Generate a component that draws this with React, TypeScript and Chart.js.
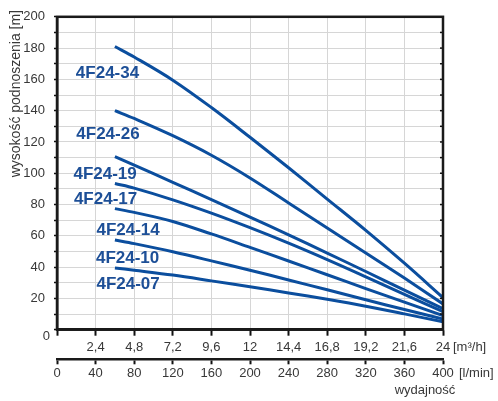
import React, { useEffect, useRef } from 'react';
import { Chart, registerables } from 'chart.js';
Chart.register(...registerables);

// flow [m3/h] sample points
const flowM3h = [3.6, 4.8, 7.2, 9.6, 12, 14.4, 16.8, 19.2, 21.6, 24];
// head [m] per pump
const head34 = [181, 174.3, 159.5, 142, 123, 103.5, 83.5, 63.5, 42.5, 20.5];
const head26 = [140, 135, 124, 111.5, 97, 81, 65, 49, 33, 16.5];
const head19 = [110.7, 105.2, 94.2, 83.2, 72, 60.6, 49, 37.2, 25.3, 13.5];
const head17 = [93.4, 90.5, 83, 74.5, 65.2, 55.3, 44.8, 33.8, 22.6, 11.5];
const head14 = [77.4, 75, 69.2, 61.2, 52.6, 43.9, 35.1, 26.3, 17.6, 9];
const head10 = [57.3, 55, 49.8, 44, 38, 31.8, 25.5, 19.1, 12.9, 6.8];
const head07 = [39.5, 38, 34.9, 31.2, 27.4, 23.5, 19.4, 15, 10.1, 5];

const pumpNames = ['4F24-34', '4F24-26', '4F24-19', '4F24-17', '4F24-14', '4F24-10', '4F24-07'];
const pumpHeads = [head34, head26, head19, head17, head14, head10, head07];
// label anchors in data units (flow m3/h, head m)
const labelFlow = [3.14, 3.17, 2.99, 3.02, 4.42, 4.39, 4.42];
const labelHead = [164, 124.7, 99.3, 83.5, 63.8, 45.8, 28.7];

const m3hTicks = [0, 2.4, 4.8, 7.2, 9.6, 12, 14.4, 16.8, 19.2, 21.6, 24];
const m3hLabels = ['', '2,4', '4,8', '7,2', '9,6', '12', '14,4', '16,8', '19,2', '21,6', '24'];
const lminTicks = [0, 40, 80, 120, 160, 200, 240, 280, 320, 360, 400];
const lminLabels = ['0', '40', '80', '120', '160', '200', '240', '280', '320', '360', '400'];

const yTitle = 'wysokość podnoszenia [m]';
const xTitle = 'wydajność';
const unitM3h = '[m³/h]';
const unitLmin = '[l/min]';

const FONT = "'Liberation Sans', Arial, sans-serif";
const LINE = '#0b4e9e';
const LABEL = '#1d4f97';
const TXT = '#383838';

export default function App() {
  const ref = useRef<HTMLCanvasElement | null>(null);
  useEffect(() => {
    if (!ref.current) return;
    const overlay = {
      id: 'overlay',
      afterDraw(chart: any) {
        const { ctx, chartArea: a, scales } = chart;
        const xs = scales.x, ys = scales.y;
        ctx.save();
        // right border inner ticks
        ctx.strokeStyle = '#111';
        ctx.lineWidth = 1.5;
        for (let v = 10; v < 200; v += 10) {
          const y = ys.getPixelForValue(v);
          ctx.beginPath();
          ctx.moveTo(a.right - 3, y);
          ctx.lineTo(a.right, y);
          ctx.stroke();
        }
        // frame
        ctx.strokeStyle = '#1a1a1a';
        ctx.lineWidth = 2.5;
        ctx.strokeRect(a.left, a.top, a.right - a.left, a.bottom - a.top);
        // y zero label
        ctx.fillStyle = TXT;
        ctx.font = `13px ${FONT}`;
        ctx.textAlign = 'right';
        ctx.textBaseline = 'middle';
        ctx.fillText('0', 50, ys.getPixelForValue(0) + 7);
        // units
        ctx.textAlign = 'left';
        ctx.fillText(unitM3h, 453, 347.5);
        ctx.fillText(unitLmin, 459, 373.5);
        ctx.textAlign = 'center';
        ctx.fillText(xTitle, 425, 390.5);
        // y title
        ctx.save();
        ctx.translate(16, 10);
        ctx.rotate(-Math.PI / 2);
        ctx.textAlign = 'right';
        ctx.textBaseline = 'middle';
        ctx.font = `14px ${FONT}`;
        ctx.fillText(yTitle, 0, 0);
        ctx.restore();
        // curve labels
        ctx.fillStyle = LABEL;
        ctx.font = `bold 17px ${FONT}`;
        ctx.textAlign = 'center';
        ctx.textBaseline = 'middle';
        pumpNames.forEach((n, i) => {
          ctx.fillText(n, xs.getPixelForValue(labelFlow[i]), ys.getPixelForValue(labelHead[i]));
        });
        ctx.restore();
      },
    };
    const chart = new Chart(ref.current, {
      type: 'line',
      data: {
        datasets: pumpHeads.map((h, i) => ({
          label: pumpNames[i],
          data: flowM3h.map((f, j) => ({ x: f, y: h[j] })),
          borderColor: LINE,
          borderWidth: 3,
          pointRadius: 0,
          fill: false,
          tension: 0.35,
          xAxisID: 'x',
          yAxisID: 'y',
        })),
      },
      options: {
        animation: false,
        responsive: false,
        layout: { padding: { top: 14, right: 55, bottom: 0, left: 0 } },
        plugins: { legend: { display: false }, tooltip: { enabled: false } },
        scales: {
          x: {
            type: 'linear',
            position: 'bottom',
            min: 0,
            max: 24,
            weight: 0,
            afterBuildTicks: (s: any) => { s.ticks = m3hTicks.map((v) => ({ value: v })); },
            afterFit: (s: any) => { s.height = 29.6; },
            grid: { color: '#d6d6d6', lineWidth: 1, tickColor: '#111', tickWidth: 2, tickLength: 6 },
            border: { color: '#1a1a1a', width: 2.5 },
            ticks: {
              maxRotation: 0,
              autoSkip: false,
              padding: 4,
              color: TXT,
              font: { family: FONT, size: 13 },
              callback: (_v: any, i: number) => m3hLabels[i],
            },
          },
          x2: {
            type: 'linear',
            position: 'bottom',
            min: 0,
            max: 400,
            weight: 1,
            afterBuildTicks: (s: any) => { s.ticks = lminTicks.map((v) => ({ value: v })); },
            afterFit: (s: any) => { s.height = 41.7; },
            grid: { drawOnChartArea: false, tickColor: '#111', tickWidth: 2, tickLength: 5 },
            border: { color: '#1a1a1a', width: 2.5 },
            ticks: {
              maxRotation: 0,
              autoSkip: false,
              padding: 1,
              color: TXT,
              font: { family: FONT, size: 13 },
              callback: (_v: any, i: number) => lminLabels[i],
            },
          },
          y: {
            type: 'linear',
            position: 'left',
            min: 0,
            max: 200,
            afterFit: (s: any) => { s.width = 57; },
            grid: { color: '#d6d6d6', lineWidth: 1, tickColor: '#111', tickWidth: 1.5, tickLength: 3 },
            border: { color: '#1a1a1a', width: 2.5 },
            ticks: {
              stepSize: 10,
              autoSkip: false,
              padding: 9,
              color: TXT,
              font: { family: FONT, size: 13 },
              callback: (v: any) => (v % 20 === 0 && v !== 0 ? String(v) : ''),
            },
          },
        },
      },
      plugins: [overlay],
    } as any);
    return () => chart.destroy();
  }, []);
  return (
    <div style={{ position: 'fixed', left: 0, top: 0, width: 498, height: 401, background: '#fff' }}>
      <canvas ref={ref} width={498} height={401} style={{ display: 'block' }} />
    </div>
  );
}
